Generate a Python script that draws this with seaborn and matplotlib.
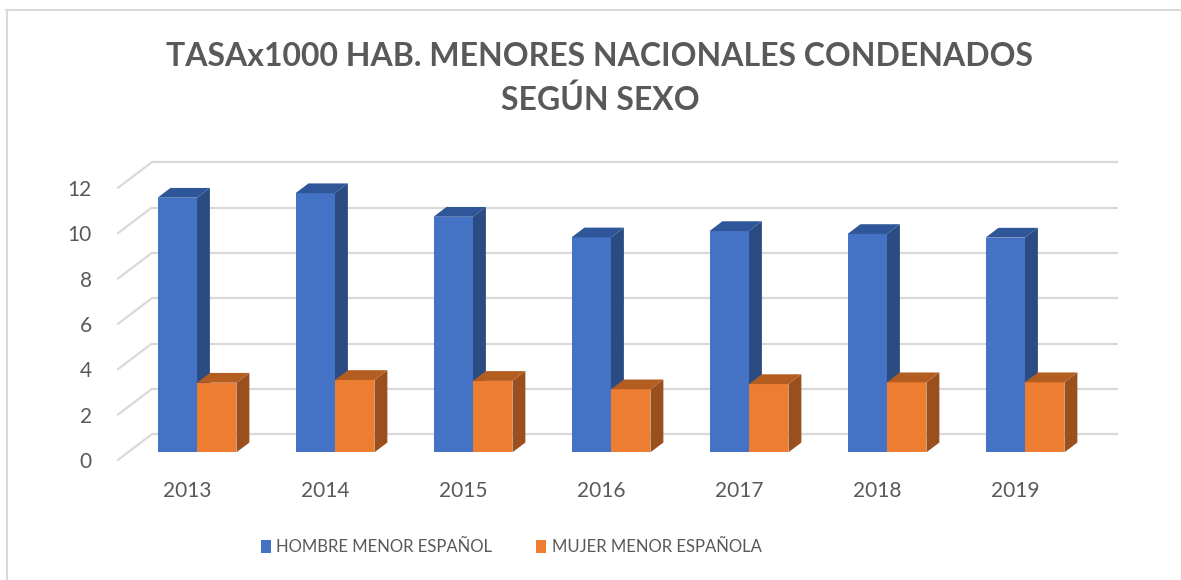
import matplotlib.pyplot as plt
from matplotlib.patches import Polygon
from matplotlib.lines import Line2D
import seaborn as sns
import pandas as pd
import numpy as np

# chart data
years = ["2013", "2014", "2015", "2016", "2017", "2018", "2019"]
hombre = [11.23, 11.43, 10.39, 9.48, 9.76, 9.63, 9.47]
mujer = [3.07, 3.19, 3.15, 2.78, 3.01, 3.09, 3.09]
series = ["HOMBRE MENOR ESPAÑOL", "MUJER MENOR ESPAÑOLA"]
yticks = [0, 2, 4, 6, 8, 10, 12]
title_lines = ["TASAx1000 HAB. MENORES NACIONALES CONDENADOS", "SEGÚN SEXO"]

front = ["#4472C4", "#ED7D31"]
side = ["#2B4B83", "#9A4F1D"]
top = ["#30569A", "#B45D21"]
grid_c = "#D9D9D9"
text_c = "#595959"

sns.set_style("white")
plt.rcParams["font.family"] = ["Lato", "DejaVu Sans"]

df = pd.DataFrame({
    "year": years * 2,
    "tasa": hombre + mujer,
    "sexo": [series[0]] * len(years) + [series[1]] * len(years),
})

W, H = 1181, 580
fig = plt.figure(figsize=(W / 100, H / 100), dpi=100)
ax = fig.add_axes([100 / W, 1 - 480 / H, 1040 / W, 340 / H])

sns.barplot(data=df, x="year", y="tasa", hue="sexo", palette=front,
            saturation=1, width=0.572, gap=0, linewidth=0, ax=ax)

# oblique depth of the floor (category units, value units)
Dx, Dy = 0.246, 1.134
f_dx, f_dy = -0.3 * Dx, -0.3 * Dy     # front plane relative to bar faces
b_dx, b_dy = 0.7 * Dx, 0.7 * Dy       # back wall relative to bar faces
d_dx, d_dy = 0.38 * Dx, 0.38 * Dy     # bar depth

n = len(years)
# back wall gridlines and left side diagonals
for k in yticks:
    ax.plot([-0.5 + b_dx, n - 0.5 + b_dx], [k + b_dy, k + b_dy],
            color=grid_c, lw=1.6, zorder=0.5, solid_capstyle="butt")
    ax.plot([-0.5 + f_dx, -0.5 + b_dx], [k + f_dy, k + b_dy],
            color=grid_c, lw=1.6, zorder=0.5)

# 3D look: side and top faces on each bar
for si, cont in enumerate(ax.containers):
    for bar in cont:
        x0 = bar.get_x()
        w = bar.get_width()
        h = bar.get_height()
        bar.set_zorder(2 + si)
        side_poly = Polygon([(x0 + w, 0), (x0 + w, h), (x0 + w + d_dx, h + d_dy),
                             (x0 + w + d_dx, d_dy)], closed=True,
                            facecolor=side[si], edgecolor="none", zorder=2 + si)
        top_poly = Polygon([(x0, h), (x0 + w, h), (x0 + w + d_dx, h + d_dy),
                            (x0 + d_dx, h + d_dy)], closed=True,
                           facecolor=top[si], edgecolor="none", zorder=2 + si)
        ax.add_patch(side_poly)
        ax.add_patch(top_poly)

ax.set_xlim((100 - 197) / 138, (1140 - 197) / 138)
ax.set_ylim(-(480 - 452.3) / 22.67, (452.3 - 140) / 22.67)

ax.set_xticks(np.arange(n) + f_dx, labels=years)
ax.set_yticks(np.array(yticks) + f_dy, labels=[str(v) for v in yticks])
ax.tick_params(axis="both", length=0, labelsize=15, labelcolor=text_c)
ax.tick_params(axis="x", pad=1)
ax.tick_params(axis="y", pad=6)
ax.set_xlabel("")
ax.set_ylabel("")
sns.despine(ax=ax, left=True, bottom=True)

handles, labels = ax.get_legend_handles_labels()
ax.get_legend().remove()
fig.legend(handles, labels, loc="center", bbox_to_anchor=(511 / W, 1 - 547 / H),
           ncol=2, frameon=False, fontsize=12, labelcolor=text_c,
           handlelength=0.6, handleheight=0.8, handletextpad=0.35,
           columnspacing=2.6)

fig.text(600 / W, 1 - 57 / H, title_lines[0], ha="center", va="center",
         fontsize=23, fontweight="bold", color=text_c)
fig.text(600 / W, 1 - 100 / H, title_lines[1], ha="center", va="center",
         fontsize=23, fontweight="bold", color=text_c)

# chart area border (left and top edges visible)
fig.add_artist(Line2D([6.5 / W, 6.5 / W], [0, 1 - 10 / H], transform=fig.transFigure,
                      color=grid_c, lw=1.5))
fig.add_artist(Line2D([6 / W, 1], [1 - 10 / H, 1 - 10 / H], transform=fig.transFigure,
                      color=grid_c, lw=1.5))

fig.savefig("out.png", dpi=100)
